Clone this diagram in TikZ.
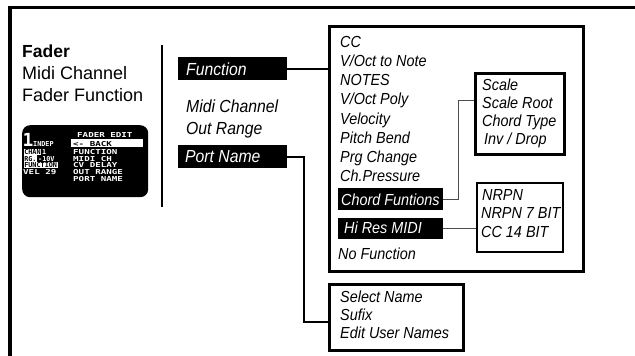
\documentclass[tikz,border=0pt]{standalone}
\usepackage{fontspec}
\setmainfont{Liberation Sans}
\newfontfamily\itf{Liberation Sans}[FakeStretch=0.9]
\newfontfamily\lcd{DejaVu Sans Mono}[FakeStretch=1.35]
\newfontfamily\lcdn{DejaVu Sans Mono}[FakeStretch=1.0]
\usetikzlibrary{calc}

\tikzset{
  itemtxt/.style={anchor=base west, inner sep=0pt, font=\itf\itshape\fontsize{16}{19}\selectfont},
  bigitem/.style={itemtxt, font=\itf\itshape\fontsize{17.5}{20}\selectfont},
  invtxt/.style={text=white},
  headtxt/.style={anchor=base west, inner sep=0pt, font=\fontsize{18}{21}\selectfont},
  blkbox/.style={fill=black, inner sep=0pt, anchor=north west},
  menubox/.style={draw=black, line width=2.5pt, inner sep=0pt, anchor=north west},
  heavy/.style={line width=2pt},
  light/.style={line width=1pt, draw=black!70},
  lcdtxt/.style={anchor=base west, inner sep=0pt, text=white, font=\lcd\bfseries\fontsize{6.8}{7}\selectfont},
  lcdnarrow/.style={lcdtxt, font=\lcdn\bfseries\fontsize{6.8}{7}\selectfont},
  lcdinv/.style={fill=white, text=black, inner sep=0.6pt}
}

\begin{document}
\begin{tikzpicture}[x=1pt, y=-1pt]
\useasboundingbox (0,0) rectangle (635,356);

% outer frame (open at the right and bottom)
\draw[line width=3.5pt] (10,356) -- (10,7.5) -- (635,7.5);

% heading
\node[headtxt, font=\bfseries\fontsize{17.5}{21}\selectfont] (fader) at (22,57) {Fader};
\node[headtxt] (midich) at (22,79) {Midi Channel};
\node[headtxt] (faderfn) at (22,101) {Fader Function};

% device screen
\node[fill=black, rounded corners=8pt, minimum width=126pt, minimum height=72pt,
      anchor=north west, inner sep=0pt] (lcd) at (22,125) {};
\node[lcdtxt] (lcdtitle) at (77,137.5) {FADER EDIT};
\node[lcdnarrow, font=\lcdn\bfseries\fontsize{18}{18}\selectfont] (lcdnum) at (22.5,146) {1};
\node[lcdnarrow] (lcdindep) at (33,146.5) {INDEP};
\node[fill=white, minimum width=72pt, minimum height=8.5pt, inner sep=0pt, anchor=north west] (lcdbar) at (71,138.5) {};
\node[lcdtxt, text=black] (lcdback) at (73,146) {<- BACK};
\node[lcdnarrow, lcdinv] (lcdchan) at (23.5,154.5) {CHAN};
\node[lcdnarrow] (lcdone) at (42,154.5) {1};
\node[lcdtxt] (lcdfunc) at (73,154) {FUNCTION};
\node[lcdnarrow, lcdinv] (lcdrg) at (23.5,161) {RG.};
\node[lcdnarrow] (lcdvolt) at (38,161) {-10V};
\node[lcdtxt] (lcdmidi) at (73,161) {MIDI CH};
\node[lcdnarrow, lcdinv] (lcdfn) at (23.5,167.5) {FUNCTION};
\node[lcdtxt] (lcdcv) at (73,167.5) {CV DELAY};
\node[lcdtxt] (lcdvel) at (23,174) {VEL 29};
\node[lcdtxt] (lcdout) at (73,174) {OUT RANGE};
\node[lcdtxt] (lcdport) at (73,181.5) {PORT NAME};

% divider
\draw[line width=2pt] (162,45) -- (162,207);

% fader edit menu
\node[blkbox, minimum width=109pt, minimum height=23pt] (fn) at (178,57) {};
\node[bigitem, invtxt] (fntxt) at (186,75.5) {Function};
\node[bigitem] (midi) at (186,112) {Midi Channel};
\node[bigitem] (range) at (186,134.5) {Out Range};
\node[blkbox, minimum width=109pt, minimum height=23pt] (pn) at (178,145) {};
\node[bigitem, invtxt] (pntxt) at (185,162) {Port Name};

% function list
\node[menubox, minimum width=254pt, minimum height=245pt] (fnbox) at (328,25) {};
\node[itemtxt] (cc) at (340,47.5) {CC};
\node[itemtxt] (voct) at (340,66.6) {V/Oct to Note};
\node[itemtxt] (notes) at (340,85.8) {NOTES};
\node[itemtxt] (vpoly) at (340,104.9) {V/Oct Poly};
\node[itemtxt] (vel) at (340,124.1) {Velocity};
\node[itemtxt] (pb) at (340,143.2) {Pitch Bend};
\node[itemtxt] (prg) at (340,162.4) {Prg Change};
\node[itemtxt] (chp) at (340,181.5) {Ch.Pressure};
\node[blkbox, minimum width=105pt, minimum height=22pt] (chord) at (338,188) {};
\node[itemtxt, invtxt] (chordtxt) at (341,205) {Chord Funtions};
\node[blkbox, minimum width=105pt, minimum height=21pt] (hires) at (338,218) {};
\node[itemtxt, invtxt] (hirestxt) at (344,233.5) {Hi Res MIDI};
\node[itemtxt] (nofn) at (338,259) {No Function};

% chord submenu
\node[menubox, minimum width=89pt, minimum height=81pt] (scale) at (474,72) {};
\node[itemtxt] (sc) at (482,90.5) {Scale};
\node[itemtxt] (scroot) at (482,108.5) {Scale Root};
\node[itemtxt] (chtype) at (482,126.5) {Chord Type};
\node[itemtxt] (inv) at (484,144.5) {Inv / Drop};

% hi res submenu
\node[menubox, line width=2pt, minimum width=86pt, minimum height=69pt] (nrpn) at (476,182) {};
\node[itemtxt] (nrpna) at (482,200) {NRPN};
\node[itemtxt] (nrpnb) at (481,218.5) {NRPN 7 BIT};
\node[itemtxt] (cc14) at (481,237) {CC 14 BIT};

% port name submenu
\node[menubox, minimum width=134pt, minimum height=66pt] (names) at (328,283) {};
\node[itemtxt] (selname) at (340,302) {Select Name};
\node[itemtxt] (sufix) at (340,320) {Sufix};
\node[itemtxt] (editnames) at (340,338) {Edit User Names};

% connectors
\coordinate (pnturn) at (304,322);
\coordinate (chturn) at (458,100);
\draw[heavy] (fn.east) -- (fnbox.west |- fn.east);
\draw[heavy] (pn.east) -| (pnturn) -- (names.west |- pnturn);
\draw[light] (chord.east) -| (chturn) -- (scale.west |- chturn);
\draw[light] (hires.east) -- (nrpn.west |- hires.east);
\end{tikzpicture}
\end{document}
